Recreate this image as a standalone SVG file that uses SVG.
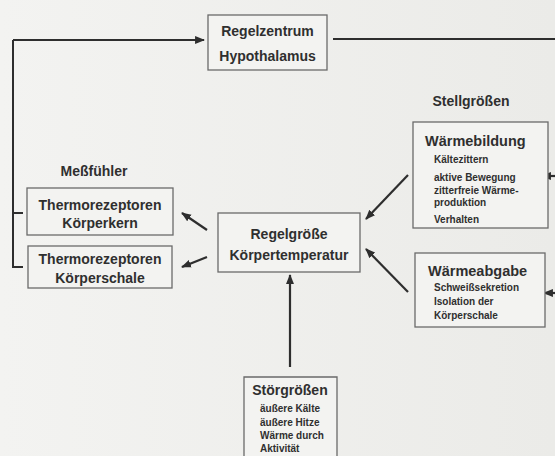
<svg xmlns="http://www.w3.org/2000/svg" width="555" height="456" viewBox="0 0 555 456">
<defs>
<marker id="ah" viewBox="0 0 10 10" refX="9" refY="5" markerWidth="4.5" markerHeight="4.5" orient="auto-start-reverse" markerUnits="strokeWidth">
<path d="M0,1 L10,5 L0,9 Z" fill="#2e2e2e"/>
</marker>
<linearGradient id="bg" x1="0" y1="0" x2="1" y2="0">
<stop offset="0" stop-color="#f3f3f1"/>
<stop offset="1" stop-color="#ebebe8"/>
</linearGradient>
</defs>
<style>
.box{fill:#f3f3f1;stroke:#6a6a6a;stroke-width:1.3}
.t{font-family:"Liberation Sans",Arial,sans-serif;font-weight:bold;fill:#2f2f2f}
.h{font-size:14px}
.s{font-size:10px}
.c{text-anchor:middle}
.ln{stroke:#2e2e2e;stroke-width:2;fill:none}
.ar{stroke:#2e2e2e;stroke-width:2.2;fill:none;marker-end:url(#ah)}
</style>
<rect x="0" y="0" width="555" height="456" fill="url(#bg)"/>

<g id="connectors">
<path class="ln" d="M23,267 H13 V40"/>
<path class="ln" d="M13,213 H23"/>
<path class="ar" d="M13,40 H204"/>
<path class="ln" d="M333,39 H555" stroke-width="2.6"/>
<path class="ar" d="M555,176 H542"/>
<path class="ar" d="M555,293 H544"/>
<path class="ar" d="M408,175 L366,219"/>
<path class="ar" d="M408,292 L366,249"/>
<path class="ar" d="M207,230 L182,213"/>
<path class="ar" d="M207,257 L182,267"/>
<path class="ar" d="M290,367 V275"/>
</g>

<g id="hypothalamus">
<rect class="box" x="208" y="15" width="119" height="55"/>
<text class="t h c" x="267.5" y="36">Regelzentrum</text>
<text class="t h c" x="267.5" y="61">Hypothalamus</text>
</g>

<g id="messfuehler-label">
<text class="t h c" x="94" y="176">Meßfühler</text>
</g>

<g id="koerperkern">
<rect class="box" x="27" y="188" width="146" height="47"/>
<text class="t h c" x="100" y="210">Thermorezeptoren</text>
<text class="t h c" x="100" y="228">Körperkern</text>
</g>

<g id="koerperschale">
<rect class="box" x="28" y="246" width="144" height="42"/>
<text class="t h c" x="100" y="264">Thermorezeptoren</text>
<text class="t h c" x="100" y="283">Körperschale</text>
</g>

<g id="regelgroesse">
<rect class="box" x="218" y="213" width="142" height="59"/>
<text class="t h c" x="289" y="239">Regelgröße</text>
<text class="t h c" x="289" y="260">Körpertemperatur</text>
</g>

<g id="stellgroessen-label">
<text class="t h c" x="471" y="106">Stellgrößen</text>
</g>

<g id="waermebildung">
<rect class="box" x="413" y="122" width="135" height="106"/>
<text class="t" x="425" y="146" font-size="14.5">Wärmebildung</text>
<text class="t s" x="434" y="163">Kältezittern</text>
<text class="t s" x="434" y="181">aktive Bewegung</text>
<text class="t s" x="434" y="194">zitterfreie Wärme-</text>
<text class="t s" x="434" y="206">produktion</text>
<text class="t s" x="434" y="223">Verhalten</text>
</g>

<g id="waermeabgabe">
<rect class="box" x="415" y="253" width="130" height="74"/>
<text class="t" x="428" y="276" font-size="14.5">Wärmeabgabe</text>
<text class="t s" x="434" y="291">Schweißsekretion</text>
<text class="t s" x="434" y="305">Isolation der</text>
<text class="t s" x="434" y="319">Körperschale</text>
</g>

<g id="stoergroessen">
<path class="box" d="M244,460 V377 H337 V460"/>
<text class="t h c" x="290" y="395">Störgrößen</text>
<text class="t s" x="260" y="412">äußere Kälte</text>
<text class="t s" x="260" y="426">äußere Hitze</text>
<text class="t s" x="260" y="439">Wärme durch</text>
<text class="t s" x="260" y="452">Aktivität</text>
</g>
</svg>
